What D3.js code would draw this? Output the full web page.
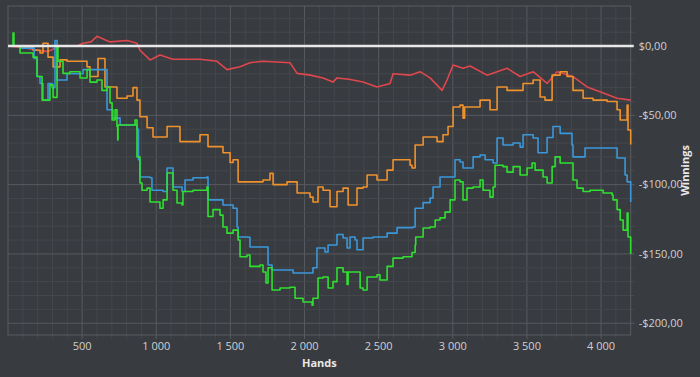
<!DOCTYPE html>
<html>
<head>
<meta charset="utf-8">
<script src="https://cdn.jsdelivr.net/npm/d3@7"></script>
<style>
  body { margin: 0; background: #383b40; }
  svg { display: block; font-family: "Open Sans", "DejaVu Sans", sans-serif; }
</style>
</head>
<body>
<div id="chart"></div>
<script>
// [hands, winnings]
var redData = [[0,0],[100,-1],[200,-3],[270,-4],[351,0],[465,0],[506,2],[560,3],[600,7],[688,3],[803,4],[870,2],[890,-3],[958,-10],[1025,-6.5],[1113,-9.5],[1295,-9.5],[1410,-11],[1477,-17],[1565,-15],[1632,-12],[1720,-11],[1902,-12],[1950,-19.7],[2040,-21],[2125,-23],[2192,-26],[2219,-23],[2300,-24],[2395,-26],[2489,-29.5],[2577,-27],[2597,-20],[2712,-21],[2779,-18.5],[2847,-23],[2928,-32],[2961,-24.5],[3002,-13.7],[3069,-16],[3117,-14.4],[3231,-21],[3366,-16],[3454,-22],[3542,-18.5],[3636,-27],[3703,-18.5],[3811,-22],[3906,-29.5],[3993,-33],[4108,-37.7],[4200,-39]];

var orangeData = [[0,0],[81,-1],[169,-3],[216,-5],[236,2],[270,-8],[304,-15],[351,-10],[398,-11],[506,-11],[533,-15],[553,-22],[607,-9],[641,-9],[654,-29.5],[735,-37.7],[803,-36],[843,-30],[870,-39],[890,-51],[938,-59],[978,-65.6],[1073,-58],[1160,-69],[1295,-64],[1349,-72.6],[1450,-77],[1498,-84],[1518,-82],[1552,-98],[1632,-98],[1720,-96.7],[1767,-91.9],[1788,-100],[1882,-98],[1950,-106],[2037,-109],[2057,-112.5],[2091,-101.7],[2125,-104],[2172,-116],[2219,-105],[2260,-102.5],[2294,-114.7],[2341,-114.7],[2354,-102.5],[2395,-101.7],[2422,-93],[2489,-96.7],[2557,-89.5],[2597,-82],[2712,-86],[2725,-88],[2746,-71.4],[2800,-65.6],[2894,-69],[2934,-64],[2968,-58],[3002,-44],[3049,-42.6],[3069,-52],[3080,-44],[3137,-44],[3184,-39],[3251,-46],[3299,-29.5],[3366,-32],[3434,-32],[3474,-27],[3542,-24.5],[3589,-36.8],[3622,-39],[3670,-21],[3724,-18.5],[3771,-22],[3811,-32],[3879,-37.7],[3946,-39],[4041,-40],[4108,-46],[4129,-53.4],[4162,-53.4],[4176,-42.6],[4182,-60.6],[4200,-71]];

var blueData = [[0,0],[81,-1.5],[169,-1.5],[176,-9],[196,-22],[216,-27],[236,-39],[270,-27],[297,-30],[317,4],[331,-24.5],[398,-20],[506,-17],[621,-17],[668,-46],[708,-52],[756,-57],[870,-60],[880,-82],[890,-94.5],[958,-95],[971,-104],[1046,-105],[1073,-88],[1093,-88],[1113,-101.7],[1174,-105],[1194,-96.7],[1248,-95],[1342,-94.5],[1349,-111],[1396,-111],[1450,-114.7],[1518,-117],[1545,-130.6],[1552,-137.8],[1619,-138],[1632,-145],[1747,-145],[1754,-158],[1781,-161.6],[1855,-161.6],[1923,-163.8],[2051,-163.8],[2057,-160],[2084,-145.7],[2138,-148.6],[2159,-143.6],[2219,-136],[2260,-138.5],[2287,-145.7],[2307,-137.8],[2341,-140],[2354,-147],[2395,-138.5],[2462,-137.8],[2557,-135],[2624,-131],[2732,-130.6],[2746,-117],[2800,-113],[2847,-109.7],[2867,-101.7],[2914,-94.5],[3002,-94.5],[3015,-82],[3049,-83.7],[3069,-88],[3137,-80],[3184,-78.6],[3218,-82],[3272,-84.4],[3299,-66.4],[3339,-71.4],[3407,-70],[3454,-72.9],[3474,-64],[3542,-66.4],[3575,-77],[3636,-66],[3676,-58],[3724,-63],[3771,-63],[3804,-71.4],[3811,-80],[3879,-80],[3892,-73.6],[4081,-73.6],[4108,-80.8],[4149,-80.8],[4162,-93],[4176,-98],[4200,-112.5]];

var greenData = [[0,0],[34,9.4],[40,0],[81,-5],[169,-8],[196,-22],[230,-39],[270,-39],[283,-28],[304,-37],[331,-0.5],[337,-11],[371,-19.7],[418,-18.5],[486,-23],[533,-17],[553,-26],[600,-24.5],[634,-32],[668,-29.5],[688,-41],[702,-53.4],[722,-46],[735,-58],[740,-67.8],[742,-57],[843,-57],[857,-53.4],[870,-80],[890,-98.8],[904,-104],[938,-102.5],[958,-112.5],[1025,-117],[1046,-111],[1073,-91.6],[1113,-104],[1140,-113.3],[1174,-114.7],[1180,-105],[1248,-104],[1342,-101.7],[1349,-123],[1383,-118],[1430,-122],[1450,-130.6],[1477,-135],[1518,-132.8],[1552,-140],[1565,-152],[1612,-150.8],[1632,-159],[1700,-158],[1720,-163],[1740,-171],[1754,-160],[1781,-176],[1815,-176],[1835,-174.6],[1902,-174],[1936,-182],[1990,-184.7],[2051,-187],[2057,-182],[2091,-167.4],[2125,-166.7],[2159,-174.6],[2192,-170],[2219,-160],[2260,-163],[2287,-172],[2294,-163],[2354,-163],[2375,-174.6],[2395,-176],[2422,-166.7],[2489,-165],[2509,-168.8],[2557,-159],[2597,-153],[2665,-152],[2725,-149],[2746,-143.6],[2750,-137.8],[2800,-131.3],[2847,-130.6],[2881,-125.5],[2914,-124],[2948,-119.8],[2982,-111],[3015,-96.7],[3049,-98],[3069,-111],[3096,-102.5],[3137,-101.7],[3184,-96.7],[3204,-104],[3251,-109],[3272,-101.7],[3285,-86],[3339,-87],[3366,-91],[3407,-87],[3454,-93],[3501,-88],[3535,-84.4],[3555,-89.5],[3609,-94.5],[3636,-98.8],[3670,-87],[3690,-80],[3724,-84.4],[3771,-84.4],[3811,-96.7],[3838,-102.5],[3879,-105],[3926,-104],[4014,-106],[4075,-107.5],[4081,-111],[4108,-118],[4129,-125.5],[4149,-132.8],[4176,-120.5],[4182,-137.8],[4200,-150]];

var seriesList = [
    {name: "red", data: redData, color: "#e0474c", step: false},
    {name: "orange", data: orangeData, color: "#f0922c", step: true},
    {name: "blue", data: blueData, color: "#3a98da", step: true},
    {name: "green", data: greenData, color: "#2fe02f", step: true}
];

var xTicks = [500, 1000, 1500, 2000, 2500, 3000, 3500, 4000];
var yTicks = [0, -50, -100, -150, -200];

var margin = {top: 6, left: 8},
    width = 622.7,
    height = 329;

var svg = d3.select("#chart")
    .append("svg")
    .attr("width", 700)
    .attr("height", 377);

var g = svg.append("g")
    .attr("transform", "translate(" + margin.left + "," + margin.top + ")");

var x = d3.scaleLinear().domain([0, 4200]).range([0, width]);
var y = d3.scaleLinear().domain([-208.5, 28.9]).range([height, 0]);

// grid, minor every 100 hands / $10
g.selectAll(".vminor")
    .data(d3.range(100, 4200, 100))
    .enter().append("line")
    .attr("x1", function(d) { return x(d); })
    .attr("x2", function(d) { return x(d); })
    .attr("y1", 0)
    .attr("y2", height + 4)
    .style("stroke", function(d) { return d % 500 == 0 ? "#575a5f" : "#44474c"; })
    .style("stroke-width", 1);

g.selectAll(".hminor")
    .data(d3.range(-200, 29, 10))
    .enter().append("line")
    .attr("x1", 0)
    .attr("x2", width + 4)
    .attr("y1", function(d) { return y(d); })
    .attr("y2", function(d) { return y(d); })
    .style("stroke", function(d) { return d % 50 == 0 ? "#575a5f" : "#44474c"; })
    .style("stroke-width", 1);

g.append("rect")
    .attr("width", width)
    .attr("height", height)
    .style("fill", "none")
    .style("stroke", "#5a5d62")
    .style("stroke-width", 1);

var stepLine = d3.line()
    .x(function(d) { return x(d[0]); })
    .y(function(d) { return y(d[1]); })
    .curve(d3.curveStepAfter);

var plainLine = d3.line()
    .x(function(d) { return x(d[0]); })
    .y(function(d) { return y(d[1]); });

g.selectAll(".series")
    .data(seriesList)
    .enter().append("path")
    .attr("d", function(d) { return d.step ? stepLine(d.data) : plainLine(d.data); })
    .style("fill", "none")
    .style("stroke", function(d) { return d.color; })
    .style("stroke-width", 1.6)
    .style("stroke-linejoin", "round");

// zero line
g.append("line")
    .attr("x1", 0)
    .attr("x2", width + 3)
    .attr("y1", y(0))
    .attr("y2", y(0))
    .style("stroke", "#e8e8e8")
    .style("stroke-width", 2.5);

function money(v) {
    var s = "$" + Math.abs(v).toFixed(2).replace(".", ",");
    return v < 0 ? "-" + s : s;
}

g.selectAll(".ylab")
    .data(yTicks)
    .enter().append("text")
    .attr("x", width + 8)
    .attr("y", function(d) { return y(d); })
    .attr("dy", "0.35em")
    .style("fill", "#d0d0d0")
    .style("font-size", "11px")
    .text(money);

g.selectAll(".xlab")
    .data(xTicks)
    .enter().append("text")
    .attr("x", function(d) { return x(d); })
    .attr("y", height + 15)
    .attr("text-anchor", "middle")
    .style("fill", "#d0d0d0")
    .style("font-size", "11px")
    .text(function(d) { return d3.format(",")(d).replace(",", " "); });

g.append("text")
    .attr("x", width / 2)
    .attr("y", height + 32)
    .attr("text-anchor", "middle")
    .style("fill", "#e8e8e8")
    .style("font-size", "11px")
    .style("font-weight", "bold")
    .text("Hands");

g.append("text")
    .attr("transform", "translate(" + (width + 58) + "," + (height / 2) + ") rotate(-90)")
    .attr("text-anchor", "middle")
    .style("fill", "#e8e8e8")
    .style("font-size", "11px")
    .style("font-weight", "bold")
    .text("Winnings");
</script>
</body>
</html>
